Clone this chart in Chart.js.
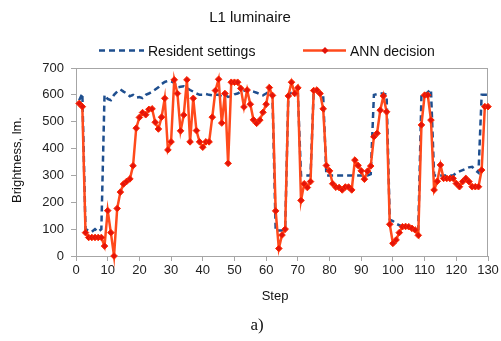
<!DOCTYPE html>
<html>
<head>
<meta charset="utf-8">
<script src="https://cdn.jsdelivr.net/npm/chart.js@4.4.0/dist/chart.umd.min.js"></script>
<style>
  html, body { margin: 0; padding: 0; background: #fff; }
  #wrap { width: 501px; height: 341px; position: relative; }
</style>
</head>
<body>
<div id="wrap"><canvas id="chart" width="501" height="341"></canvas></div>
<script>
// chart data
const chartTitle = 'L1 luminaire';
const seriesNames = ['Resident settings', 'ANN decision'];
const xTitle = 'Step';
const yTitle = 'Brightness, lm.';
const panelLabel = 'a)';
const xTicks = [0, 10, 20, 30, 40, 50, 60, 70, 80, 90, 100, 110, 120, 130];
const yTicks = [0, 100, 200, 300, 400, 500, 600, 700];

// values for steps 1..130
const resident = [
  580, 605, 100, 95, 90, 100, 90, 100, 600, 585,
  580, 600, 612, 620, 612, 605, 595, 600, 590, 592,
  588, 600, 605, 612, 620, 628, 640, 648, 652, 650,
  645, 628, 630, 632, 625, 618, 612, 605, 600, 600,
  603, 600, 598, 600, 600, 595, 600, 592, 595, 602,
  605, 612, 615, 618, 615, 612, 608, 602, 598, 605,
  612, 590, 95, 95, 95, 100, 600, 608, 612, 605,
  300, 300, 300, 300, 615, 612, 605, 595, 300, 300,
  300, 300, 300, 300, 300, 300, 300, 300, 300, 300,
  300, 300, 305, 600, 603, 605, 605, 600, 135, 130,
  120, 115, 110, 108, 105, 100, 97, 100, 600, 600,
  610, 620, 300, 300, 300, 300, 300, 300, 300, 310,
  315, 320, 325, 330, 332, 320, 310, 600, 600, 600
];
const ann = [
  568, 556, 87, 69, 69, 69, 69, 69, 37, 169,
  87, 0, 177, 238, 268, 278, 287, 336, 476, 516,
  534, 526, 546, 548, 498, 473, 517, 587, 395, 425,
  656, 605, 466, 525, 656, 425, 587, 467, 425, 405,
  425, 425, 517, 616, 658, 495, 605, 345, 647, 647,
  647, 624, 555, 618, 565, 507, 494, 506, 535, 565,
  627, 598, 168, 28, 78, 100, 596, 647, 605, 626,
  207, 269, 255, 277, 616, 618, 605, 548, 337, 317,
  269, 256, 255, 246, 257, 257, 246, 357, 337, 317,
  286, 316, 335, 444, 457, 543, 596, 537, 118, 47,
  60, 87, 109, 110, 109, 103, 97, 77, 488, 599,
  599, 506, 246, 278, 339, 289, 289, 289, 289, 270,
  258, 277, 289, 277, 258, 258, 258, 320, 556, 556
];

const blue = '#1f4f8f';
const red = '#ff4a1c';
const markRed = '#e3140b';
const greyLine = '#a6a6a6';
const sans = "'Liberation Sans', Arial, sans-serif";

function toPoints(values) {
  return values.map(function(v, i) { return { x: i + 1, y: v }; });
}

// extra text and frame drawn around the plot
const decor = {
  id: 'decor',
  beforeDatasetsDraw(chart) {
    const ctx = chart.ctx;
    const a = chart.chartArea;
    ctx.save();
    ctx.strokeStyle = greyLine;
    ctx.lineWidth = 1;
    ctx.strokeRect(a.left + 0.5, a.top + 0.5, a.right - a.left - 1, a.bottom - a.top);
    ctx.restore();
  },
  afterDraw(chart) {
    const ctx = chart.ctx;
    ctx.save();
    ctx.fillStyle = '#111';
    ctx.textBaseline = 'alphabetic';

    // title
    ctx.font = '15px ' + sans;
    ctx.textAlign = 'center';
    ctx.fillText(chartTitle, 250, 22);

    // legend
    const ly = 50.5;
    ctx.lineWidth = 2.5;
    ctx.strokeStyle = blue;
    ctx.setLineDash([6, 4]);
    ctx.beginPath();
    ctx.moveTo(99, ly);
    ctx.lineTo(144, ly);
    ctx.stroke();
    ctx.setLineDash([]);
    ctx.strokeStyle = red;
    ctx.beginPath();
    ctx.moveTo(303, ly);
    ctx.lineTo(346, ly);
    ctx.stroke();
    ctx.fillStyle = markRed;
    ctx.beginPath();
    ctx.moveTo(325, ly - 3.5);
    ctx.lineTo(328.5, ly);
    ctx.lineTo(325, ly + 3.5);
    ctx.lineTo(321.5, ly);
    ctx.closePath();
    ctx.fill();

    ctx.fillStyle = '#111';
    ctx.font = '14px ' + sans;
    ctx.textAlign = 'left';
    ctx.fillText(seriesNames[0], 148, 56);
    ctx.fillText(seriesNames[1], 350, 56);

    // axis titles
    ctx.font = '13px ' + sans;
    ctx.textAlign = 'center';
    ctx.fillText(xTitle, 275, 300);
    ctx.save();
    ctx.translate(21, 160);
    ctx.rotate(-Math.PI / 2);
    ctx.fillText(yTitle, 0, 0);
    ctx.restore();

    // panel label
    ctx.font = "17px 'Liberation Serif', 'Times New Roman', serif";
    ctx.fillText(panelLabel, 257, 330);
    ctx.restore();
  }
};

const ctx = document.getElementById('chart').getContext('2d');
const chart = new Chart(ctx, {
  type: 'line',
  data: {
    datasets: [{
      label: seriesNames[1],
      data: toPoints(ann),
      borderColor: red,
      borderWidth: 2.5,
      pointStyle: 'rectRot',
      pointRadius: 3.3,
      pointBackgroundColor: markRed,
      pointBorderColor: '#ff2a00',
      pointBorderWidth: 1,
      tension: 0,
      clip: false,
      order: 1
    }, {
      label: seriesNames[0],
      data: toPoints(resident),
      borderColor: blue,
      borderWidth: 2.5,
      borderDash: [6, 4],
      pointRadius: 0,
      tension: 0,
      clip: false,
      order: 2
    }]
  },
  options: {
    responsive: false,
    animation: false,
    devicePixelRatio: 1,
    layout: { padding: { top: 68, right: 13, left: 0, bottom: 0 } },
    plugins: {
      legend: { display: false },
      title: { display: false },
      tooltip: { enabled: false }
    },
    scales: {
      x: {
        type: 'linear',
        min: 0,
        max: 130,
        afterBuildTicks: function(scale) {
          scale.ticks = xTicks.map(function(v) { return { value: v }; });
        },
        afterFit: function(scale) { scale.height = 85; },
        grid: { drawOnChartArea: false, color: greyLine, tickLength: 5 },
        border: { color: greyLine },
        ticks: { color: '#222', font: { family: sans, size: 13 }, padding: 2, maxRotation: 0 }
      },
      y: {
        min: 0,
        max: 700,
        afterBuildTicks: function(scale) {
          scale.ticks = yTicks.map(function(v) { return { value: v }; });
        },
        afterFit: function(scale) { scale.width = 76; },
        grid: { drawOnChartArea: false, color: greyLine, tickLength: 5 },
        border: { color: greyLine },
        ticks: { color: '#222', font: { family: sans, size: 13 }, padding: 7 }
      }
    }
  },
  plugins: [decor]
});
</script>
</body>
</html>
